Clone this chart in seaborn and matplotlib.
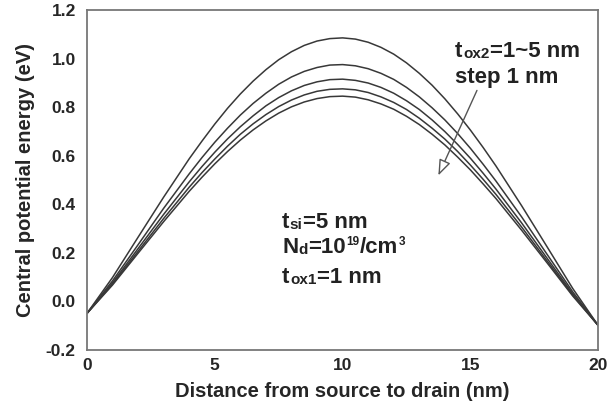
import matplotlib

matplotlib.use("Agg")

import matplotlib.pyplot as plt
import pandas as pd
import seaborn as sns
from matplotlib.ticker import MultipleLocator
from matplotlib.transforms import IdentityTransform

# distance from source (nm) and central potential energy (eV), tox2 = 1..5 nm
distance = [0, 1, 2, 3, 4, 4.5, 5, 5.5, 6, 6.5, 7, 7.5, 8, 8.5, 9, 9.5, 10,
            10.5, 11, 11.5, 12, 12.5, 13, 13.5, 14, 14.5, 15, 15.5, 16, 17, 18, 19, 20]
tox2_1 = [-0.050, 0.098, 0.264, 0.429, 0.587, 0.660, 0.730, 0.795, 0.854, 0.907, 0.954,
          0.995, 1.028, 1.054, 1.072, 1.082, 1.085, 1.080, 1.067, 1.046, 1.018, 0.982,
          0.939, 0.890, 0.834, 0.772, 0.705, 0.633, 0.557, 0.394, 0.224, 0.053, -0.100]
tox2_2 = [-0.050, 0.084, 0.233, 0.383, 0.525, 0.592, 0.655, 0.713, 0.767, 0.815, 0.857,
          0.894, 0.924, 0.947, 0.963, 0.973, 0.975, 0.970, 0.958, 0.939, 0.914, 0.881,
          0.842, 0.797, 0.747, 0.691, 0.630, 0.564, 0.495, 0.348, 0.193, 0.039, -0.100]
tox2_3 = [-0.050, 0.076, 0.217, 0.358, 0.492, 0.555, 0.614, 0.669, 0.719, 0.764, 0.805,
          0.839, 0.867, 0.889, 0.904, 0.913, 0.915, 0.910, 0.899, 0.881, 0.857, 0.826,
          0.790, 0.747, 0.699, 0.646, 0.589, 0.527, 0.462, 0.323, 0.177, 0.031, -0.100]
tox2_4 = [-0.050, 0.071, 0.206, 0.341, 0.470, 0.530, 0.586, 0.639, 0.688, 0.731, 0.769,
          0.802, 0.829, 0.850, 0.865, 0.873, 0.875, 0.871, 0.860, 0.842, 0.819, 0.790,
          0.754, 0.713, 0.668, 0.617, 0.561, 0.502, 0.440, 0.306, 0.166, 0.026, -0.100]
tox2_5 = [-0.050, 0.067, 0.198, 0.328, 0.453, 0.511, 0.566, 0.617, 0.664, 0.706, 0.743,
          0.775, 0.801, 0.821, 0.835, 0.843, 0.845, 0.841, 0.830, 0.813, 0.791, 0.762,
          0.728, 0.688, 0.644, 0.594, 0.541, 0.483, 0.423, 0.293, 0.158, 0.022, -0.100]

x_ticks = [0, 5, 10, 15, 20]
y_ticks = [-0.2, 0.0, 0.2, 0.4, 0.6, 0.8, 1.0, 1.2]

sns.set_theme(style="white")
plt.rcParams["font.family"] = ["Liberation Sans", "DejaVu Sans"]
plt.rcParams["font.weight"] = "bold"

curves = {"1 nm": tox2_1, "2 nm": tox2_2, "3 nm": tox2_3, "4 nm": tox2_4, "5 nm": tox2_5}
df = pd.concat(
    [pd.DataFrame({"x": distance, "E": vals, "tox2": name}) for name, vals in curves.items()],
    ignore_index=True,
)

fig = plt.figure(figsize=(6.08, 4.15), dpi=100)
ax = fig.add_axes([0.143, 0.157, 0.841, 0.819])
sns.lineplot(data=df, x="x", y="E", hue="tox2", palette=["#383838"] * 5,
             linewidth=1.1, legend=False, ax=ax)

ax.set_xlim(0, 20)
ax.set_ylim(-0.2, 1.2)
ax.set_xticks(x_ticks)
ax.set_yticks(y_ticks)
ax.set_yticklabels([f"{v:.1f}" for v in y_ticks])
ax.xaxis.set_minor_locator(MultipleLocator(2.5))
ax.yaxis.set_minor_locator(MultipleLocator(0.1))
ax.tick_params(which="both", direction="in", color="#cccccc", width=0.8)
ax.tick_params(which="major", length=4, labelsize=12.5)
ax.tick_params(which="minor", length=3)
ax.tick_params(axis="x", pad=6)
ax.tick_params(axis="y", pad=8)
for s in ax.spines.values():
    s.set_color("#777777")
    s.set_linewidth(1.3)

ax.set_xlabel("Distance from source to drain (nm)", fontsize=14.5, fontweight="bold", labelpad=6)
ax.set_ylabel("Central potential energy (eV)", fontsize=14.5, fontweight="bold", labelpad=8)

renderer = fig.canvas.get_renderer()


def rich_text(x, y, parts):
    # parts: (text, fontsize, vertical shift in px); laid out left to right
    px, py = ax.transData.transform((x, y))
    for s, size, dy in parts:
        t = fig.text(px, py + dy, s, transform=IdentityTransform(), fontsize=size,
                     fontweight="bold", color="#222222", va="baseline", ha="left")
        px = t.get_window_extent(renderer).x1 + 0.5


big, small, tiny = 16, 11, 8.5
rich_text(14.4, 1.006, [("t", big, 0), ("ox2", small, -1), ("=1~5 nm", big, 0)])
rich_text(14.4, 0.900, [("step 1 nm", big, 0)])
rich_text(7.63, 0.302, [("t", big, 0), ("si", small, -1), ("=5 nm", big, 0)])
rich_text(7.63, 0.199, [("N", big, 0), ("d", small, -1), ("=10", big, 0), ("19", tiny, 8),
                        ("/cm", big, 0), ("3", tiny, 8)])
rich_text(7.63, 0.076, [("t", big, 0), ("ox1", small, -1), ("=1 nm", big, 0)])

ax.annotate("", xy=(13.7, 0.508), xytext=(15.3, 0.879),
            arrowprops=dict(arrowstyle="-|>,head_length=0.8,head_width=0.3",
                            fc="white", ec="#555555", lw=1.0))

fig.savefig("out.png", dpi=100)
